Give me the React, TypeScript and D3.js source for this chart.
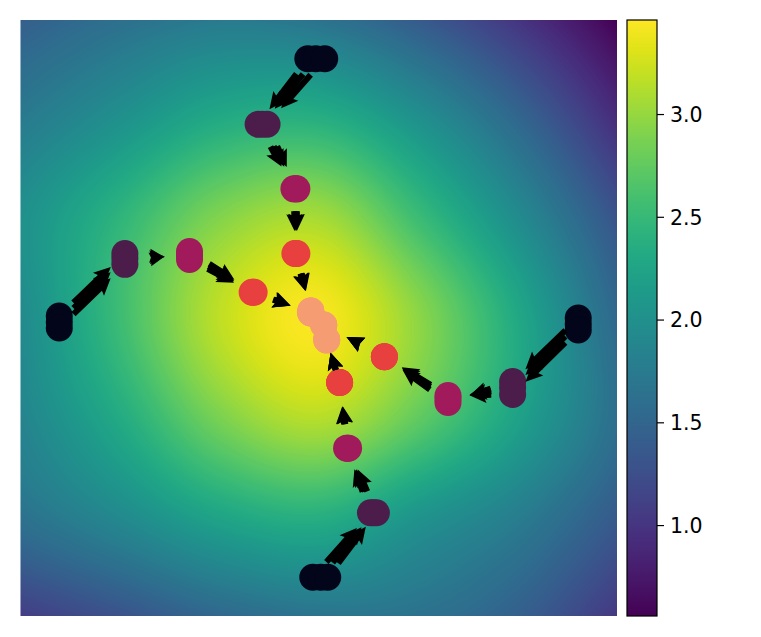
import React, { useMemo } from 'react';
import * as d3 from 'd3';

// background field, sampled on a 7x7 grid (rows top -> bottom)
const gridXs = [-3, -2, -1, 0, 1, 2, 3];
const gridYs = [3, 2, 1, 0, -1, -2, -3];
const fieldRows = [
  [1.43, 1.62, 1.74, 1.66, 1.38, 1.0, 0.56],
  [1.74, 2.02, 2.32, 2.38, 2.02, 1.52, 0.92],
  [2.0, 2.45, 2.92, 3.08, 2.55, 1.96, 1.3],
  [1.93, 2.55, 3.18, 3.44, 2.97, 2.3, 1.52],
  [1.86, 2.33, 2.88, 3.15, 2.76, 2.22, 1.6],
  [1.64, 1.93, 2.25, 2.38, 2.06, 1.78, 1.37],
  [1.08, 1.29, 1.52, 1.66, 1.64, 1.43, 1.03],
];

const colorDomain = [0.56, 3.46];
const colorTicks = [1.0, 1.5, 2.0, 2.5, 3.0];

// one colour per step (rocket)
const stepColors = ['#03051a', '#4c1d4b', '#a11a5b', '#e83f3f', '#f69c73'];

// trajectories: three runs per start
const topX = [
  [-0.11, -0.61, -0.25, -0.24, -0.08],
  [-0.03, -0.57, -0.23, -0.23, -0.08],
  [0.06, -0.52, -0.22, -0.22, -0.08],
];
const topY = [
  [2.61, 1.95, 1.3, 0.65, 0.07],
  [2.61, 1.95, 1.3, 0.65, 0.07],
  [2.61, 1.95, 1.3, 0.65, 0.07],
];
const topArrow = [0.45, 0.23, 0.2, 0.18];

const leftX = [
  [-2.61, -1.95, -1.3, -0.67, -0.08],
  [-2.61, -1.95, -1.3, -0.66, -0.08],
  [-2.61, -1.95, -1.3, -0.65, -0.08],
];
const leftY = [
  [0.02, 0.65, 0.59, 0.26, 0.05],
  [-0.04, 0.6, 0.63, 0.26, 0.05],
  [-0.1, 0.54, 0.67, 0.26, 0.05],
];
const leftArrow = [0.52, 0.15, 0.3, 0.18];

const rightX = [
  [2.61, 1.95, 1.3, 0.66, 0.05],
  [2.61, 1.95, 1.3, 0.66, 0.05],
  [2.61, 1.95, 1.3, 0.66, 0.05],
];
const rightY = [
  [0.0, -0.64, -0.85, -0.39, -0.07],
  [-0.06, -0.7, -0.81, -0.39, -0.07],
  [-0.12, -0.77, -0.78, -0.39, -0.07],
];
const rightArrow = [0.56, 0.22, 0.34, 0.17];

const bottomX = [
  [-0.06, 0.52, 0.28, 0.21, 0.08],
  [0.02, 0.55, 0.29, 0.21, 0.08],
  [0.09, 0.58, 0.3, 0.21, 0.08],
];
const bottomY = [
  [-2.61, -1.96, -1.31, -0.65, -0.22],
  [-2.61, -1.96, -1.31, -0.65, -0.22],
  [-2.61, -1.96, -1.31, -0.65, -0.22],
];
const bottomArrow = [0.46, 0.24, 0.18, 0.18];

const W = 761;
const H = 637;
const plot = { left: 20.5, right: 617, top: 20, bottom: 616 };
const cbar = { left: 627, right: 657 };

const x = d3.scaleLinear().domain([-3, 3]).range([plot.left, plot.right]);
const y = d3.scaleLinear().domain([-3, 3]).range([plot.bottom, plot.top]);
const cy = d3.scaleLinear().domain(colorDomain).range([plot.bottom, plot.top]);

// catmull-rom so the field is drawn smooth between the samples
function cr(p0: number, p1: number, p2: number, p3: number, t: number) {
  return 0.5 * (2 * p1 + (-p0 + p2) * t + (2 * p0 - 5 * p1 + 4 * p2 - p3) * t * t +
    (-p0 + 3 * p1 - 3 * p2 + p3) * t * t * t);
}
function cell(r: number, c: number): number {
  const n = fieldRows.length - 1;
  const m = fieldRows[0].length - 1;
  if (r < 0) return 2 * cell(0, c) - cell(1, c);
  if (r > n) return 2 * cell(n, c) - cell(n - 1, c);
  if (c < 0) return 2 * cell(r, 0) - cell(r, 1);
  if (c > m) return 2 * cell(r, m) - cell(r, m - 1);
  return fieldRows[r][c];
}

function useHeatmap() {
  return useMemo(() => {
    const pw = Math.round(plot.right - plot.left);
    const ph = Math.round(plot.bottom - plot.top);
    const canvas = document.createElement('canvas');
    canvas.width = pw;
    canvas.height = ph;
    const ctx = canvas.getContext('2d')!;
    const img = ctx.createImageData(pw, ph);
    const lut = d3.range(256).map(i => d3.rgb(d3.interpolateViridis(i / 255)));
    const nc = gridXs.length - 1;
    const nr = gridYs.length - 1;
    for (let py = 0; py < ph; py++) {
      const gy = ((py + 0.5) / ph) * nr;
      const j = Math.min(nr - 1, Math.floor(gy));
      const ty = gy - j;
      for (let px = 0; px < pw; px++) {
        const gx = ((px + 0.5) / pw) * nc;
        const i = Math.min(nc - 1, Math.floor(gx));
        const tx = gx - i;
        const rows = [-1, 0, 1, 2].map(dj =>
          cr(cell(j + dj, i - 1), cell(j + dj, i), cell(j + dj, i + 1), cell(j + dj, i + 2), tx));
        const v = cr(rows[0], rows[1], rows[2], rows[3], ty);
        let t = (v - colorDomain[0]) / (colorDomain[1] - colorDomain[0]);
        t = Math.max(0, Math.min(1, t));
        const c = lut[Math.round(t * 255)];
        const k = (py * pw + px) * 4;
        img.data[k] = c.r;
        img.data[k + 1] = c.g;
        img.data[k + 2] = c.b;
        img.data[k + 3] = 255;
      }
    }
    ctx.putImageData(img, 0, 0);
    return canvas.toDataURL();
  }, []);
}

const shaft = 6;
const headW = 16;
const headL = 17;
const headAxis = 15;

function arrowPath(len: number) {
  const h = len / 2;
  if (len < headL) {
    const s = len / headL;
    return `M${h - headL * s},${(-headW / 2) * s}L${h},0L${h - headL * s},${(headW / 2) * s}L${h - headAxis * s},0Z`;
  }
  return `M${-h},${-shaft / 2}L${h - headAxis},${-shaft / 2}L${h - headL},${-headW / 2}L${h},0` +
    `L${h - headL},${headW / 2}L${h - headAxis},${shaft / 2}L${-h},${shaft / 2}Z`;
}

const groups = [
  { xs: topX, ys: topY, arrows: topArrow },
  { xs: leftX, ys: leftY, arrows: leftArrow },
  { xs: rightX, ys: rightY, arrows: rightArrow },
  { xs: bottomX, ys: bottomY, arrows: bottomArrow },
];

export default function App() {
  const href = useHeatmap();
  const pxPerUnit = x(1) - x(0);

  const points: { cx: number; cy: number; step: number }[] = [];
  const arrows: { mx: number; my: number; ang: number; len: number }[] = [];
  groups.forEach(g => {
    g.xs.forEach((run, r) => {
      run.forEach((vx, s) => {
        points.push({ cx: x(vx), cy: y(g.ys[r][s]), step: s });
        if (s < run.length - 1) {
          const x0 = x(vx), y0 = y(g.ys[r][s]);
          const x1 = x(run[s + 1]), y1 = y(g.ys[r][s + 1]);
          arrows.push({
            mx: (x0 + x1) / 2,
            my: (y0 + y1) / 2,
            ang: (Math.atan2(y1 - y0, x1 - x0) * 180) / Math.PI,
            len: g.arrows[s] * pxPerUnit,
          });
        }
      });
    });
  });
  points.sort((a, b) => a.step - b.step);

  const stops = d3.range(0, 1.0001, 0.05);

  return (
    <div style={{ position: 'absolute', left: 0, top: 0 }}>
      <svg width={W} height={H} style={{ display: 'block', background: '#fff' }}>
        <defs>
          <linearGradient id="cbar" x1="0" y1="1" x2="0" y2="0">
            {stops.map(t => (
              <stop key={t} offset={t} stopColor={d3.interpolateViridis(t)} />
            ))}
          </linearGradient>
        </defs>
        <image
          href={href}
          x={plot.left}
          y={plot.top}
          width={plot.right - plot.left}
          height={plot.bottom - plot.top}
          preserveAspectRatio="none"
        />
        {points.map((p, i) => (
          <circle key={i} cx={p.cx} cy={p.cy} r={13.5} fill={stepColors[p.step]} />
        ))}
        {arrows.map((a, i) => (
          <path
            key={i}
            d={arrowPath(a.len)}
            transform={`translate(${a.mx},${a.my}) rotate(${a.ang})`}
            fill="#000"
          />
        ))}
        <rect
          x={cbar.left}
          y={plot.top}
          width={cbar.right - cbar.left}
          height={plot.bottom - plot.top}
          fill="url(#cbar)"
          stroke="#000"
          strokeWidth={1.2}
        />
        {colorTicks.map(t => (
          <g key={t} transform={`translate(${cbar.right},${cy(t)})`}>
            <line x1={0} x2={7} stroke="#000" strokeWidth={1.2} />
            <text
              x={13}
              dy="0.36em"
              fontFamily="DejaVu Sans"
              fontSize={20.5}
              fill="#000"
            >
              {d3.format('.1f')(t)}
            </text>
          </g>
        ))}
      </svg>
    </div>
  );
}
